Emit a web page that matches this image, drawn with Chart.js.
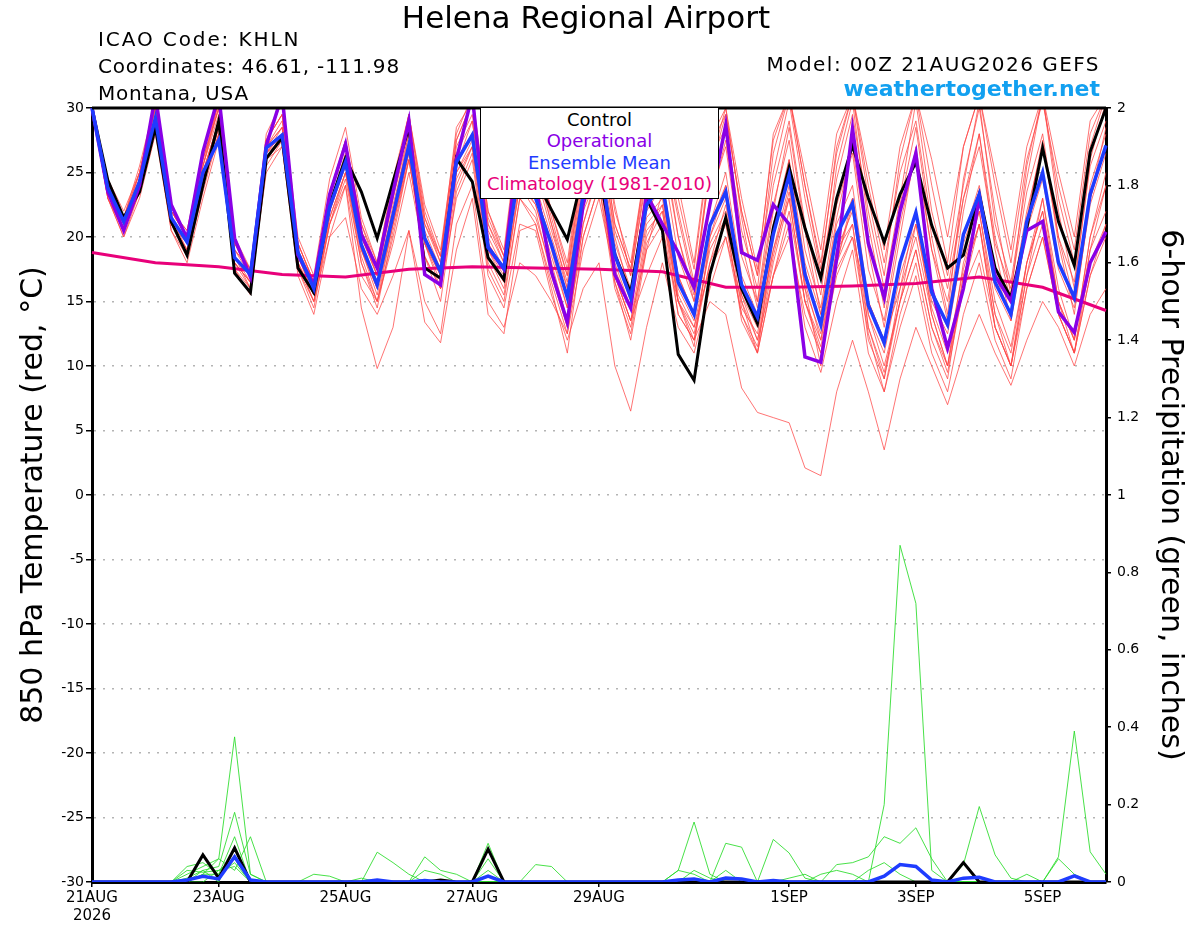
<!DOCTYPE html>
<html>
<head>
<meta charset="utf-8">
<script src="https://cdn.jsdelivr.net/npm/chart.js@4.4.0/dist/chart.umd.min.js"></script>
<style>
  body { margin: 0; background: #fff; font-family: "DejaVu Sans", sans-serif; }
  #wrap { position: relative; width: 1200px; height: 927px; overflow: hidden; }
  #plume { position: absolute; left: 0; top: 0; }
  .txt { position: absolute; white-space: nowrap; line-height: 1; color: #000; }
  #title { left: 0; width: 1172px; text-align: center; top: 2px; font-size: 31px; }
  .info { left: 98px; font-size: 20px; letter-spacing: 0.8px; }
  .rinfo { right: 100px; text-align: right; }
  #site { font-size: 22px; font-weight: bold; color: #12a0f0; }
  #key {
    position: absolute; left: 480px; top: 107px; width: 239px; height: 92px;
    box-sizing: border-box; border: 1.5px solid #000; background: #fff;
    text-align: center; font-size: 18px; line-height: 21.3px; padding-top: 1px;
  }
</style>
</head>
<body>
<div id="wrap">
  <canvas id="plume" width="1200" height="927"></canvas>
  <div class="txt" id="title">Helena Regional Airport</div>
  <div class="txt info" style="top:29px;letter-spacing:1.9px">ICAO Code: KHLN</div>
  <div class="txt info" style="top:56px">Coordinates: 46.61, -111.98</div>
  <div class="txt info" style="top:83px">Montana, USA</div>
  <div class="txt info rinfo" style="top:54px;left:auto;letter-spacing:1.45px">Model: 00Z 21AUG2026 GEFS</div>
  <div class="txt rinfo" id="site" style="top:78px">weathertogether.net</div>
  <div id="key">
    <div style="color:#000">Control</div>
    <div style="color:#8a00e6">Operational</div>
    <div style="color:#1f3cff">Ensemble Mean</div>
    <div style="color:#e8007a">Climatology (1981-2010)</div>
  </div>
</div>
<script>
// forecast hours, 6-hourly from 00Z 21AUG2026
const hours = [];
for (let h = 0; h <= 384; h += 6) hours.push(h);

// x tick labels (index into hours)
const tickIndex = [0, 8, 16, 24, 32, 44, 52, 60];
const tickText = [["21AUG", "2026"], "23AUG", "25AUG", "27AUG", "29AUG", "1SEP", "3SEP", "5SEP"];

// 850 hPa temperature, deg C
const control = [
  30, 24.4, 21.5, 23.5, 28.5, 21.2, 18.6, 24, 29, 17.2, 15.7, 26.1, 27.7, 17.6, 15.7, 22.5, 26.1,
  23.5, 19.9, 24.3, 28.5, 17.6, 16.8, 26.1, 24.3, 18.4, 16.7, 27, 24.5, 22.1, 19.8, 25, 25,
  18.6, 15.7, 23, 20.5, 10.9, 8.9, 17.1, 21.5, 16, 13.3, 20.7, 25.4, 20.7, 16.8, 23, 27.1,
  23, 19.6, 23.3, 25.8, 20.9, 17.6, 18.6, 23.3, 17.6, 15.3, 20.7, 26.9, 21.2, 17.8, 26.6, 30
];
const operational = [
  30, 23.5, 20.5, 24, 31, 22.5, 19.9, 26.6, 31, 19.9, 16.9, 27.1, 31, 18.6, 16.3, 23.3, 27.2,
  20.2, 17.6, 23.5, 29, 17.1, 16.3, 26, 31, 19.2, 17.5, 28, 24, 17.3, 13.4, 22.5, 27,
  17.1, 14.5, 23.3, 21, 18.8, 16.1, 22.5, 28.7, 18.8, 18.2, 22.5, 21, 10.7, 10.3, 18.3, 28.4,
  19.5, 15.3, 22, 26.5, 16, 11.4, 16, 23, 17, 15, 20.5, 21.2, 14.2, 12.6, 18, 20.4
];
const ensMean = [
  30, 23.8, 21.2, 24.3, 29.2, 21.5, 19.6, 25, 27.5, 18.4, 17.1, 26.9, 27.9, 18.8, 16, 22.3, 25.8,
  19.4, 16.3, 21.7, 27.1, 19.9, 17.3, 25.8, 27.9, 19.2, 17.6, 25.5, 23, 19.4, 15.3, 23.3, 26,
  18.6, 15.3, 22.5, 24, 16.5, 14, 20.9, 23.5, 16.3, 13.8, 20.2, 24.8, 17.1, 13.2, 20.2, 22.6,
  14.7, 11.8, 18, 21.9, 15.7, 13.2, 20.2, 23.3, 16.5, 14, 21.2, 25, 18, 15.3, 23.3, 27.1
];
// climatology: one value per day (00Z), gaps spanned
const climo = [
  18.8, null, null, null, 18.0, null, null, null, 17.7, null, null, null, 17.1, null, null, null, 16.9,
  null, null, null, 17.5, null, null, null, 17.7, null, null, null, 17.6, null, null, null, 17.5,
  null, null, null, 17.3, null, null, null, 16.1, null, null, null, 16.1, null, null, null, 16.2,
  null, null, null, 16.4, null, null, null, 16.9, null, null, null, 16.1, null, null, null, 14.3
];

// ensemble members
const mem01 = [
  30, 24.5, 21.5, 25, 30.5, 22.5, 20, 26, 30.5, 19.5, 17.5, 27.5, 30.5, 19.5, 16.5, 23.5, 27.5,
  21, 18, 24, 29, 21, 18.5, 27.5, 30.5, 21, 18.5, 28, 26, 21, 17, 25.5, 29,
  21, 17.5, 25.5, 28, 22, 16.5, 25, 29.5, 22, 17, 25, 30.5, 23, 17, 24.5, 29.5,
  22, 16, 23, 30.5, 22, 17, 24, 30.5, 21, 16.5, 24.5, 31, 23, 18, 27, 31
];
const mem02 = [
  30, 23, 20.5, 23.5, 28.5, 21, 19, 24, 28, 18, 16.5, 26, 27.5, 18.5, 15.5, 21.5, 25,
  19, 15.5, 21, 26.5, 19.5, 16.5, 25, 27.5, 18.5, 16.5, 24.5, 22.5, 18.5, 14.5, 22.5, 25.5,
  17.5, 14.5, 21.5, 23, 16, 13.5, 20, 23, 15.5, 13, 19, 24, 16, 12.5, 19, 22,
  14, 11, 17, 21, 15, 12.5, 19.5, 23, 16, 13.5, 20.5, 24.5, 17.5, 14.5, 22.5, 26.5
];
const mem03 = [
  29.5, 24, 21, 24, 29.5, 21.5, 19.5, 25, 29, 18.5, 17, 27, 28.5, 18, 15, 21, 24,
  14.5, 9.8, 13, 20.5, 13.4, 11.8, 19, 23, 14, 12.5, 20.5, 21, 16, 11, 20, 24,
  16, 12.5, 19.5, 22, 15, 12.5, 18, 21, 14, 11, 17, 22, 15, 11.5, 18, 21,
  13, 9.5, 15, 19, 13, 10, 17, 21, 14, 11, 18, 22, 15, 12, 19, 22
];
const mem04 = [
  30, 23.5, 20.5, 24, 29, 21, 19, 24.5, 28.5, 18, 16.5, 26.5, 28, 18.5, 15.5, 22, 25.5,
  19, 16, 21, 26, 19.5, 17, 24.5, 27, 19, 16.5, 24, 22, 17, 13, 20, 24,
  17, 13.5, 19, 21, 14, 12, 15, 14, 8.3, 6.4, 6, 5.6, 2.1, 1.5, 8, 12,
  8, 3.5, 9, 13, 10, 7, 11, 14, 11, 8.5, 12, 15, 13, 10, 14, 16
];
const mem05 = [
  30, 23, 20, 23, 28, 20.5, 18, 23, 27.5, 17.5, 16, 25, 27, 17.5, 15, 20, 24,
  17, 15, 19.5, 25, 18.5, 16, 23, 26, 17, 14.5, 21, 20.5, 15.5, 12, 16, 18,
  10, 6.5, 13, 18, 13, 11, 16, 20, 14, 11.5, 18, 23, 15, 12, 19, 21,
  12, 9, 15, 19, 13, 9.5, 16, 21, 13, 10, 17, 21, 14, 11, 18, 21
];
const mem06 = [
  30, 24, 21.5, 25, 30, 22, 20, 25.5, 29.5, 19, 17.5, 27.5, 29.5, 19.5, 16.5, 23, 27,
  20.5, 17.5, 23, 28.5, 21.5, 18, 27, 29.5, 20.5, 18, 27, 25, 20.5, 16.5, 25, 28,
  20.5, 17, 24.5, 27.5, 21.5, 16, 26, 28.5, 20.5, 16, 26.5, 31, 24, 18, 26.5, 31,
  23, 17, 26, 31, 24, 18, 27, 31, 24, 18, 26, 30.5, 24, 19, 28, 31
];
const mem07 = [
  30, 24, 21, 24.5, 29.5, 21.5, 19.5, 25, 29, 18.5, 17, 26.5, 28.5, 18.5, 16, 22.5, 26,
  19.5, 16.5, 22.5, 27.5, 20, 17.5, 26, 28, 19.5, 17.5, 25.5, 23.5, 19.5, 15.5, 23, 26.5,
  18.5, 15, 22, 24, 17, 14, 21, 25, 17, 14, 21, 26, 18, 14, 21, 24,
  15, 12, 18, 22, 16, 13, 20, 24, 17, 14, 21, 25, 18, 15, 23, 27
];
const mem08 = [
  30, 23.5, 21, 24, 29, 21, 19.5, 24.5, 28.5, 18, 16.5, 26, 28, 18, 15.5, 22, 25.5,
  19, 16, 21.5, 27, 19.5, 17, 25.5, 28, 19, 17, 25.5, 23, 19, 14.5, 22.5, 26,
  18, 14.5, 21, 22.5, 15.5, 13, 19, 21.5, 13.5, 11, 17, 21, 13, 9.5, 15, 19,
  11, 8, 13, 17, 11, 8, 14, 18, 12, 9, 16, 20, 14, 11, 17, 21
];
const mem09 = [
  30, 24.5, 21.5, 25.5, 30.5, 22, 20, 26, 30, 19.5, 17.5, 27.5, 29.5, 19, 16.5, 23.5, 27,
  20, 17, 23.5, 29.5, 21.5, 18.5, 28.5, 30.5, 21.5, 18.5, 28, 26, 21.5, 17, 26, 29,
  21, 17.5, 26, 29, 23, 17.5, 27, 29.5, 22, 17, 28, 31, 24, 17.5, 27, 31,
  24, 18, 25, 29, 21, 16, 23, 28, 20, 15, 22, 27, 20, 15, 24, 28
];
const mem10 = [
  30, 23, 20, 23.5, 28.5, 21, 18.5, 24, 28, 18, 16, 26, 27, 17, 14, 20, 21.5,
  16, 14, 17, 20.5, 15, 12.5, 21, 24, 15, 13, 18, 17, 15, 12.5, 19, 23,
  17, 13.5, 17, 20, 15, 13, 17.5, 20, 15, 12, 17, 20, 14, 11, 17, 20,
  15, 12, 16, 20, 14, 10, 16, 19, 13, 10, 16, 20, 14, 11, 17, 20
];
const mem11 = [
  30, 24, 21.5, 24.5, 30, 22.5, 20, 25.5, 30, 19, 17, 27, 28.5, 19, 16, 22.5, 26.5,
  20, 17, 22, 28, 20.5, 17.5, 25.5, 29, 20, 17.5, 26, 24, 20, 16, 24, 27.5,
  19.5, 16, 23.5, 26, 18.5, 15, 23, 27, 18.5, 15, 22.5, 27.5, 19, 14.5, 22.5, 26.5,
  17.5, 13.5, 21, 26.5, 19, 15, 23, 27, 19.5, 16, 23.5, 28, 20, 16.5, 25.5, 29
];
const mem12 = [
  30, 23.5, 20.5, 23.5, 29, 21, 19, 24.5, 29, 18.5, 16, 26.5, 28, 18, 15, 21.5, 25,
  18.5, 15, 21, 26.5, 19.5, 16, 25, 27, 18.5, 16, 24, 22.5, 18, 13.5, 22, 25,
  17, 13.5, 20.5, 22, 14, 12, 19.5, 22, 14.5, 12.5, 19, 23, 15, 11, 17.5, 20,
  12.5, 8, 14, 18, 12, 9, 17, 21, 13, 10, 18, 22, 15, 12, 20, 24
];
const mem13 = [
  30, 24.5, 22, 25, 30.5, 22, 20.5, 26.5, 30.5, 20, 17.5, 28, 30.5, 20, 17, 24.5, 28.5,
  21.5, 18, 24.5, 29.5, 22.5, 19, 28, 31, 22, 19, 29, 27, 22, 18, 27, 30,
  22, 18, 26, 30, 24, 18, 27.5, 30, 23, 17.5, 27.5, 31, 25, 19, 28, 31,
  25, 19, 27, 31, 26, 20, 27, 31, 25, 19, 27, 31, 25, 20, 29, 31
];
const mem14 = [
  30, 23.5, 21, 24, 29.5, 21.5, 19.5, 25, 29, 18.5, 17, 27, 28, 18.5, 16, 22, 26,
  19.5, 16.5, 22, 27, 20, 17.5, 26, 28, 19.5, 17.5, 26, 23.5, 19.5, 15.5, 23.5, 26.5,
  19, 15.5, 22.5, 24.5, 17, 14, 21, 24, 16.5, 13.5, 20.5, 25, 17.5, 13, 20, 23,
  15, 11.5, 18, 22, 15.5, 13, 20, 23.5, 16.5, 14, 21, 25, 18, 15, 23, 27
];
const mem15 = [
  30, 24, 21, 25, 30, 22, 20.5, 26, 30, 19.5, 17, 27, 29, 19, 16, 23, 27.5,
  20.5, 17, 23, 28, 21, 18, 26.5, 29, 21, 18, 27.5, 25.5, 21, 16, 24.5, 28.5,
  20, 15.5, 24, 27, 20, 15.5, 25.5, 30, 21.5, 15, 24, 29, 21, 15.5, 25.5, 30.5,
  21, 14.5, 22.5, 28.5, 20, 14, 24.5, 30, 22, 15.5, 25.5, 31, 22, 16, 26, 30.5
];
const mem16 = [
  30, 23, 20.5, 24, 29, 21.5, 19, 24, 28.5, 18.5, 16.5, 26.5, 27.5, 18, 15.5, 21, 25,
  18, 15, 20, 26, 18.5, 16, 24, 27, 18, 15.5, 23, 21.5, 17.5, 13, 21, 25.5,
  16.5, 12, 19, 23.5, 15, 11.5, 20, 24, 15, 11, 20, 26, 16, 10, 18, 23,
  13, 9, 16, 22, 14, 10, 18, 22, 14, 10, 17, 23, 15, 11, 19, 24
];
const mem17 = [
  30, 24.5, 21.5, 24.5, 30, 22, 20, 25.5, 30.5, 19, 17.5, 27.5, 29.5, 19.5, 16.5, 23, 27.5,
  21, 17.5, 24, 29.5, 22, 18.5, 27.5, 30.5, 22, 18.5, 28.5, 27, 22, 17.5, 26.5, 30,
  22.5, 17, 25, 28, 20, 15, 22.5, 27.5, 19.5, 14.5, 22, 28.5, 20.5, 14, 21.5, 27,
  19, 13, 20, 27, 19, 13.5, 22, 28, 19, 13.5, 21.5, 27.5, 19.5, 14, 23, 28.5
];
const mem18 = [
  30, 23.5, 20.5, 23.5, 28.5, 20.5, 18.5, 23.5, 28, 17.5, 15.5, 25.5, 27.5, 17.5, 14.5, 21, 24.5,
  18, 14.5, 20.5, 26, 18.5, 15, 23.5, 26.5, 17.5, 15, 23, 21, 16.5, 12.5, 21, 25,
  16.5, 13, 20, 22.5, 15, 12, 18, 22.5, 15.5, 12, 18.5, 23.5, 16.5, 12, 18, 22.5,
  14, 10, 15, 21, 14.5, 11, 17.5, 22, 15, 11.5, 18, 23, 16, 12, 20, 25
];
const members = [mem01, mem02, mem03, mem04, mem05, mem06, mem07, mem08, mem09,
  mem10, mem11, mem12, mem13, mem14, mem15, mem16, mem17, mem18];

// 6-hour precipitation, inches
const controlPcp = [
  0, 0, 0, 0, 0, 0, 0, 0.07, 0.01, 0.088, 0, 0, 0, 0, 0, 0, 0,
  0, 0, 0, 0, 0, 0.005, 0, 0, 0.085, 0, 0, 0, 0, 0, 0, 0,
  0, 0, 0, 0, 0, 0, 0, 0, 0, 0, 0, 0, 0, 0, 0, 0,
  0, 0, 0, 0, 0, 0, 0.05, 0, 0, 0, 0, 0, 0, 0, 0, 0
];
const meanPcp = [
  0, 0, 0, 0, 0, 0, 0.005, 0.015, 0.008, 0.065, 0.005, 0, 0, 0, 0, 0, 0,
  0, 0.005, 0, 0, 0.004, 0, 0, 0, 0.015, 0, 0, 0, 0, 0, 0, 0,
  0, 0, 0, 0, 0.005, 0.008, 0, 0.01, 0.008, 0, 0.004, 0, 0, 0, 0, 0,
  0, 0.015, 0.045, 0.04, 0.005, 0, 0.01, 0.012, 0, 0, 0, 0, 0, 0.016, 0, 0
];
const pcp01 = [
  0, 0, 0, 0, 0, 0, 0.02, 0.04, 0.06, 0.375, 0.02, 0, 0, 0, 0, 0, 0,
  0, 0, 0, 0, 0, 0, 0, 0, 0, 0, 0, 0, 0, 0, 0, 0,
  0, 0, 0, 0, 0, 0, 0, 0, 0, 0, 0, 0, 0, 0, 0, 0,
  0, 0.2, 0.87, 0.72, 0.03, 0, 0, 0, 0, 0, 0, 0, 0, 0, 0, 0
];
const pcp02 = [
  0, 0, 0, 0, 0, 0, 0, 0.03, 0.04, 0.18, 0.02, 0, 0, 0, 0, 0, 0,
  0, 0, 0, 0, 0, 0, 0, 0, 0.1, 0, 0, 0, 0, 0, 0, 0,
  0, 0, 0, 0, 0.03, 0.155, 0.02, 0, 0, 0, 0, 0, 0, 0, 0, 0,
  0, 0, 0, 0, 0, 0, 0.045, 0.195, 0.07, 0.01, 0, 0, 0, 0, 0, 0
];
const pcp03 = [
  0, 0, 0, 0, 0, 0, 0.04, 0.05, 0.02, 0.117, 0, 0, 0, 0, 0, 0, 0,
  0, 0.077, 0.05, 0.02, 0, 0, 0, 0, 0, 0, 0, 0, 0, 0, 0, 0,
  0, 0, 0, 0, 0, 0, 0, 0.1, 0.09, 0, 0, 0, 0, 0, 0, 0,
  0, 0, 0, 0, 0, 0, 0, 0, 0, 0, 0, 0, 0.065, 0.39, 0.078, 0.02
];
const pcp04 = [
  0, 0, 0, 0, 0, 0, 0, 0.02, 0.06, 0.03, 0.117, 0, 0, 0, 0, 0, 0,
  0, 0, 0, 0, 0.065, 0.03, 0.02, 0, 0, 0, 0, 0, 0, 0, 0, 0,
  0, 0, 0, 0, 0, 0, 0, 0, 0, 0, 0.11, 0.075, 0.01, 0, 0, 0,
  0, 0, 0, 0, 0, 0, 0, 0, 0, 0, 0, 0, 0, 0, 0, 0
];
const pcp05 = [
  0, 0, 0, 0, 0, 0, 0.01, 0.03, 0, 0.09, 0, 0, 0, 0, 0.02, 0.015, 0,
  0, 0, 0, 0, 0, 0, 0, 0, 0, 0, 0, 0.045, 0.04, 0, 0, 0,
  0, 0, 0, 0, 0, 0, 0, 0, 0, 0, 0, 0, 0, 0, 0.045, 0.05,
  0.065, 0.117, 0.1, 0.14, 0.06, 0, 0, 0, 0, 0, 0, 0, 0, 0, 0, 0
];
const pcp06 = [
  0, 0, 0, 0, 0, 0, 0, 0, 0.03, 0.06, 0, 0, 0, 0, 0, 0, 0,
  0, 0, 0, 0, 0.03, 0.02, 0, 0, 0, 0, 0, 0, 0, 0, 0, 0,
  0, 0, 0, 0, 0.03, 0.02, 0, 0.03, 0, 0, 0, 0, 0, 0.02, 0.03, 0.02,
  0, 0, 0, 0, 0, 0, 0, 0, 0, 0, 0, 0, 0.06, 0.02, 0, 0
];
const pcp07 = [
  0, 0, 0, 0, 0, 0, 0, 0.02, 0.02, 0.05, 0, 0, 0, 0, 0, 0, 0,
  0.01, 0, 0, 0, 0, 0, 0, 0, 0.06, 0, 0, 0, 0, 0, 0, 0,
  0, 0, 0, 0, 0, 0, 0, 0, 0, 0, 0, 0.01, 0.02, 0, 0, 0,
  0, 0, 0, 0, 0, 0, 0, 0, 0, 0, 0.02, 0, 0, 0, 0, 0
];
const pcp08 = [
  0, 0, 0, 0, 0, 0, 0.03, 0.025, 0.03, 0.04, 0, 0, 0, 0, 0, 0, 0,
  0, 0, 0, 0, 0, 0, 0, 0, 0.03, 0, 0, 0, 0, 0, 0, 0,
  0, 0, 0, 0, 0, 0.03, 0.01, 0, 0, 0, 0, 0, 0, 0, 0, 0,
  0.03, 0.05, 0.02, 0, 0, 0, 0, 0, 0, 0, 0, 0, 0, 0, 0, 0
];
const pcpMembers = [pcp01, pcp02, pcp03, pcp04, pcp05, pcp06, pcp07, pcp08];

function series(data, color, width, order, axis) {
  return {
    data: data,
    borderColor: color,
    borderWidth: width,
    pointRadius: 0,
    tension: 0,
    spanGaps: true,
    order: order,
    yAxisID: axis
  };
}

const datasets = [];
datasets.push(series(ensMean, "#1f3cff", 3.5, 1, "y"));
datasets.push(series(operational, "#8a00e6", 3.5, 2, "y"));
datasets.push(series(control, "#000000", 3, 3, "y"));
datasets.push(series(climo, "#e8007a", 3, 4, "y"));
datasets.push(series(meanPcp, "#1f3cff", 3.5, 5, "y1"));
datasets.push(series(controlPcp, "#000000", 3, 6, "y1"));
pcpMembers.forEach(p => datasets.push(series(p, "rgba(40,220,40,0.85)", 1, 7, "y1")));
members.forEach(m => datasets.push(series(m, "rgba(255,70,70,0.75)", 1, 8, "y")));

// thick black line along the top of the plot area
const frame = {
  id: "frame",
  afterDatasetsDraw(chart) {
    const a = chart.chartArea;
    const ctx = chart.ctx;
    ctx.save();
    ctx.strokeStyle = "#000";
    ctx.lineWidth = 3;
    ctx.beginPath();
    ctx.moveTo(a.left, a.top);
    ctx.lineTo(a.right, a.top);
    ctx.stroke();
    ctx.restore();
  }
};

new Chart(document.getElementById("plume"), {
  type: "line",
  data: { labels: hours, datasets: datasets },
  options: {
    responsive: false,
    animation: false,
    devicePixelRatio: 1,
    layout: { padding: { top: 108, left: 0, right: 0, bottom: 0 } },
    plugins: { legend: { display: false }, tooltip: { enabled: false } },
    scales: {
      x: {
        type: "category",
        afterFit(s) { s.height = 45; },
        ticks: {
          autoSkip: false, maxRotation: 0, padding: 2, color: "#000",
          font: { family: "DejaVu Sans", size: 15 },
          callback(v, i) {
            const k = tickIndex.indexOf(i);
            return k < 0 ? "" : tickText[k];
          }
        },
        grid: {
          drawOnChartArea: false, tickLength: 5, lineWidth: 1.5,
          color: ctx => tickIndex.includes(ctx.index) ? "#000" : "rgba(0,0,0,0)"
        },
        border: { display: true, color: "#000", width: 3 }
      },
      y: {
        position: "left", min: -30, max: 30,
        afterFit(s) { s.width = 92; },
        ticks: { stepSize: 5, padding: 2, color: "#000", font: { family: "DejaVu Sans", size: 14 } },
        grid: {
          lineWidth: 1.5, tickLength: 6, tickColor: "#000", tickWidth: 1.5,
          color: ctx => (ctx.tick && Math.abs(ctx.tick.value) === 30) ? "rgba(0,0,0,0)" : "#b4b4b4"
        },
        border: { display: true, color: "#000", width: 3, dash: [2, 7] },
        title: {
          display: true, text: "850 hPa Temperature (red, °C)", color: "#000",
          font: { family: "DejaVu Sans", size: 30 }, padding: { top: 16, bottom: 0 }
        }
      },
      y1: {
        position: "right", min: 0, max: 2,
        afterFit(s) { s.width = 94; },
        ticks: {
          stepSize: 0.2, padding: 6, color: "#000", font: { family: "DejaVu Sans", size: 14 },
          callback: v => String(Math.round(v * 10) / 10)
        },
        grid: { drawOnChartArea: false, tickLength: 5, tickColor: "#000", lineWidth: 1.5 },
        border: { display: true, color: "#000", width: 3 },
        title: {
          display: true, text: "6-hour Precipitation (green, inches)", color: "#000",
          font: { family: "DejaVu Sans", size: 30 }, padding: { top: 12, bottom: 0 }
        }
      }
    }
  },
  plugins: [frame]
});
</script>
</body>
</html>
